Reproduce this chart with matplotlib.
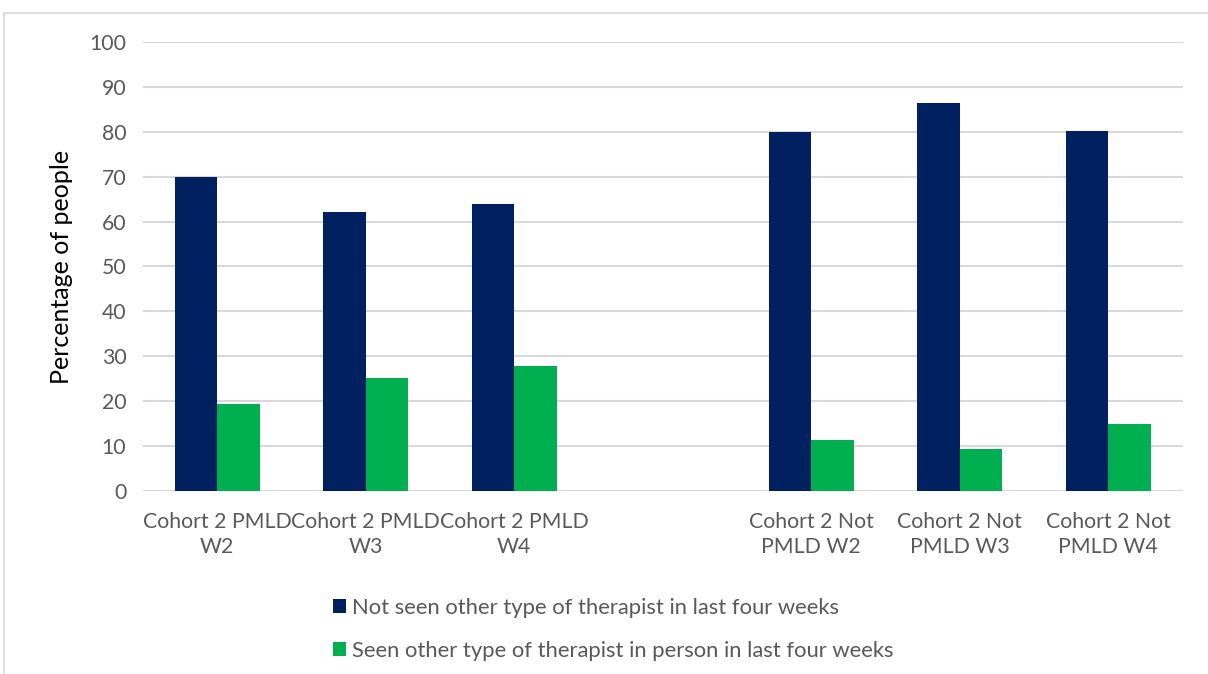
import matplotlib.pyplot as plt
from matplotlib.patches import Rectangle
import numpy as np

# data
categories = ["Cohort 2 PMLD\nW2", "Cohort 2 PMLD\nW3", "Cohort 2 PMLD\nW4", "",
              "Cohort 2 Not\nPMLD W2", "Cohort 2 Not\nPMLD W3", "Cohort 2 Not\nPMLD W4"]
not_seen = [70.0, 62.2, 63.9, np.nan, 80.0, 86.4, 80.2]
seen_in_person = [19.4, 25.2, 27.8, np.nan, 11.4, 9.3, 14.9]
series_names = ["Not seen other type of therapist in last four weeks",
                "Seen other type of therapist in person in last four weeks"]
yticks = [0, 10, 20, 30, 40, 50, 60, 70, 80, 90, 100]

navy = "#002060"
green = "#00b050"
grey_text = "#595959"

plt.rcParams['font.family'] = ['Lato', 'DejaVu Sans']

fig = plt.figure(figsize=(12.08, 6.74), dpi=100)
ax = fig.add_axes([0.1184, 0.2715, 0.8605, 0.6662])

# chart border
fig.patches.append(Rectangle((0.0035, -0.01), 1.0, 0.99, transform=fig.transFigure,
                             fill=False, edgecolor="#d9d9d9", linewidth=1.2))

x = np.arange(len(categories))
w = 0.2875
ax.bar(x - w / 2, not_seen, width=w, color=navy, label=series_names[0], zorder=3)
ax.bar(x + w / 2, seen_in_person, width=w, color=green, label=series_names[1], zorder=3)

ax.set_xlim(-0.5, len(categories) - 0.5)
ax.set_ylim(0, 100)
ax.set_yticks(yticks)
ax.yaxis.grid(True, color="#d9d9d9", linewidth=1.5, zorder=0)
ax.set_axisbelow(True)
for s in ax.spines.values():
    s.set_visible(False)
ax.axhline(0, color="#d9d9d9", linewidth=1.5, zorder=1)

ax.set_xticks(x)
ax.set_xticklabels(categories, fontsize=15.3, color=grey_text, linespacing=1.3)
ax.tick_params(axis="both", length=0, labelsize=15.3, colors=grey_text)
ax.tick_params(axis="x", pad=15)
ax.tick_params(axis="y", pad=12)
ax.set_ylabel("Percentage of people", fontsize=18, color="black", labelpad=12)

fig.legend(loc="upper left", bbox_to_anchor=(0.2685, 0.126), ncol=1, frameon=False,
           fontsize=15.8, labelcolor=grey_text, handlelength=0.6, handleheight=0.6,
           handletextpad=0.25, labelspacing=1.05, borderaxespad=0)

fig.savefig("out.png", dpi=100)
